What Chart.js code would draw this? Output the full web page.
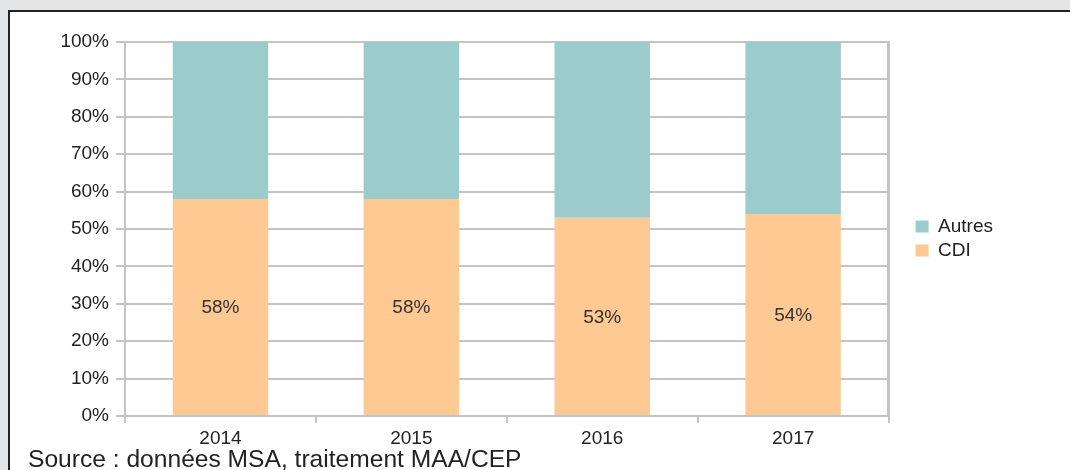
<!DOCTYPE html>
<html>
<head>
<meta charset="utf-8">
<script src="https://cdn.jsdelivr.net/npm/chart.js@4/dist/chart.umd.min.js"></script>
<style>
  html, body { margin: 0; padding: 0; }
  body { width: 1070px; height: 470px; background: #e4e5e7; position: relative; overflow: hidden; font-family: "Liberation Sans", Arial, sans-serif; }
  #panel { position: absolute; left: 8px; top: 10px; width: 1100px; height: 500px; background: #fff; border-left: 2px solid #222; border-top: 2px solid #222; }
  #wrap { position: absolute; left: 0; top: 0; width: 1070px; height: 470px; }
  #source { position: absolute; left: 28px; top: 447px; font-size: 24.6px; line-height: 24px; color: #222; white-space: nowrap; }
</style>
</head>
<body>
<div id="panel"></div>
<div id="wrap"><canvas id="myChart"></canvas></div>
<div id="source">Source : données MSA, traitement MAA/CEP</div>
<script>
'use strict';

let years = ['2014', '2015', '2016', '2017'];
let cdiValues = [58, 58, 53, 54];
let autresValues = [42, 42, 47, 46];
let yTicks = [0, 10, 20, 30, 40, 50, 60, 70, 80, 90, 100];

let orange = '#ffc994';
let teal = '#9ccbcb';
let gridColor = '#c4c4c4';
let textColor = '#222';
let fontFamily = '"Liberation Sans", Arial, sans-serif';

// percent label in the middle of each CDI bar
let barLabels = {
  id: 'barLabels',
  afterDatasetsDraw(chart) {
    let ctx = chart.ctx;
    let meta = chart.getDatasetMeta(0);
    ctx.save();
    ctx.font = '19px ' + fontFamily;
    ctx.fillStyle = '#333';
    ctx.textAlign = 'center';
    ctx.textBaseline = 'middle';
    meta.data.forEach(function (bar, i) {
      let mid = (bar.y + bar.base) / 2 + 1;
      ctx.fillText(cdiValues[i] + '%', bar.x, mid);
    });
    ctx.restore();
  }
};

function chartRender() {
  let ctx = document.getElementById('myChart').getContext('2d');
  let chart = new Chart(ctx, {
    type: 'bar',
    data: {
      labels: years,
      datasets: [{
        label: 'CDI',
        backgroundColor: orange,
        data: cdiValues,
        categoryPercentage: 1,
        barPercentage: 0.5
      }, {
        label: 'Autres',
        backgroundColor: teal,
        data: autresValues,
        categoryPercentage: 1,
        barPercentage: 0.5
      }]
    },
    options: {
      responsive: true,
      maintainAspectRatio: false,
      animation: false,
      layout: { padding: { left: 0, top: 42, right: 67, bottom: 0 } },
      plugins: {
        tooltip: { enabled: false },
        legend: {
          position: 'right',
          align: 'start',
          reverse: true,
          // blank title only pushes the items down
          title: { display: true, text: ' ', font: { size: 10 }, padding: { top: 0, bottom: 158 } },
          labels: {
            boxWidth: 13,
            boxHeight: 12,
            padding: 5,
            color: textColor,
            font: { family: fontFamily, size: 19 }
          }
        }
      },
      scales: {
        x: {
          stacked: true,
          afterFit: function (scale) { scale.height = 54; },
          grid: {
            offset: true,
            tickLength: 7,
            lineWidth: 2,
            color: function (c) { return c.index === years.length ? gridColor : 'rgba(0,0,0,0)'; },
            tickColor: gridColor
          },
          border: { display: true, color: gridColor, width: 2 },
          ticks: {
            padding: 4,
            color: textColor,
            font: { family: fontFamily, size: 19 }
          }
        },
        y: {
          stacked: true,
          min: 0,
          max: 100,
          afterFit: function (scale) { scale.width = 125; },
          afterBuildTicks: function (scale) {
            scale.ticks = yTicks.map(function (v) { return { value: v }; });
          },
          grid: { color: gridColor, lineWidth: 2, tickLength: 9, tickColor: gridColor },
          border: { display: true, color: gridColor, width: 2 },
          ticks: {
            padding: 7,
            color: textColor,
            font: { family: fontFamily, size: 19 },
            callback: function (v) { return v + '%'; }
          }
        },
        y2: {
          position: 'right',
          min: 0,
          max: 100,
          afterFit: function (scale) { scale.width = 22; },
          grid: { drawOnChartArea: false, drawTicks: false },
          border: { display: true, color: gridColor, width: 3 },
          ticks: { display: false }
        }
      }
    },
    plugins: [barLabels]
  });
  return chart;
}
chartRender();
</script>
</body>
</html>
